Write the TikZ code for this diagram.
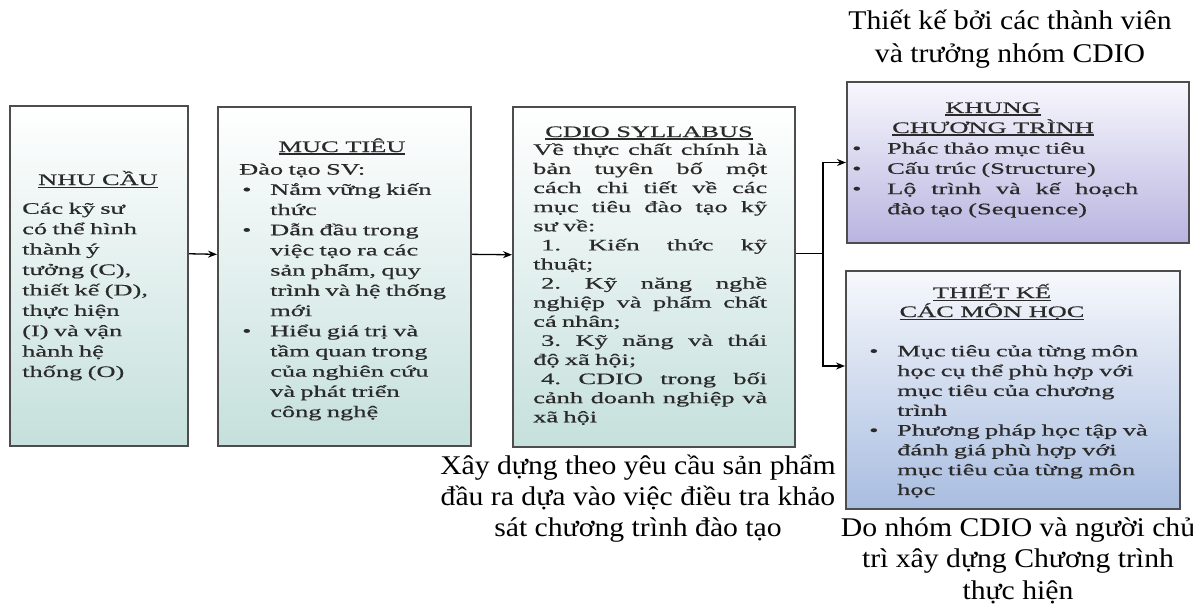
\documentclass[tikz,border=0pt]{standalone}
\usepackage{fontspec}
\setmainfont{Liberation Serif}
\newfontfamily\boxfont[FakeStretch=1.65,FakeBold=0.5]{Liberation Serif}
\newfontfamily\labfont[FakeStretch=1.1]{Liberation Serif}
\usetikzlibrary{arrows.meta,calc}
\definecolor{bordergray}{HTML}{4D4D4D}
\definecolor{tealbot}{HTML}{C5E0DC}
\definecolor{lavbot}{HTML}{B8B4E0}
\definecolor{lavtop}{HTML}{F8F7FD}
\definecolor{bluebot}{HTML}{A9BDE0}
\definecolor{bluetop}{HTML}{F6F8FC}
\definecolor{txtc}{HTML}{2A2A2A}
\newcommand{\ulx}[1]{\setbox0\hbox{#1}\rlap{\rule[-2.6pt]{\wd0}{1.1pt}}\box0}
\newcommand{\jl}[2]{\makebox[#1][s]{\spaceskip=.3333em plus 1fil\relax\xspaceskip=\spaceskip #2}}
\tikzset{
  boxbase/.style={draw=bordergray, line width=2pt, anchor=north west, inner sep=0pt},
  boxA/.style={boxbase, top color=white, bottom color=tealbot},
  boxB/.style={boxbase, top color=lavtop, bottom color=lavbot},
  boxC/.style={boxbase, top color=bluetop, bottom color=bluebot},
  ttl/.style={font={\boxfont\fontsize{16}{20}\selectfont}, text=txtc, anchor=base, inner sep=0pt},
  btxt/.style={text=txtc, anchor=north west, inner sep=0pt, align=left},
  lab/.style={align=center, anchor=north, inner sep=0pt, text=black},
  arr/.style={-{Stealth[length=9pt,width=7pt]}, line width=1.3pt, black},
  ln/.style={line width=1.3pt, black}
}
\begin{document}
\begin{tikzpicture}[x=1pt,y=-1pt]
\useasboundingbox (0,0) rectangle (1193,607);
% boxes
\node[boxA, minimum width=178, minimum height=340] (b1) at (9,105) {};
\node[boxA, minimum width=253, minimum height=339] (b2) at (217,106) {};
\node[boxA, minimum width=282, minimum height=340] (b3) at (512,106) {};
\node[boxB, minimum width=342, minimum height=161] (b4) at (846,81) {};
\node[boxC, minimum width=334, minimum height=238] (b5) at (845,270) {};
% box 1
\node[ttl] (t1) at (98,185) {\ulx{NHU CẦU}};
\node[btxt, font={\boxfont\fontsize{16}{20.4}\selectfont}, text width=165] (x1) at (22,199.3) {\strut Các kỹ sư\\có thể hình\\thành ý\\tưởng (C),\\thiết kế (D),\\thực hiện\\(I) và vận\\hành hệ\\thống (O)};
% box 2
\node[ttl] (t2) at (342,152) {\ulx{MỤC TIÊU}};
\node[btxt, font={\boxfont\fontsize{16}{20.2}\selectfont}, text width=228] (x2) at (239,160.3) {\strut Đào tạo SV:\\
\hspace*{3pt}\makebox[28pt][l]{•}Nắm vững kiến\\
\hspace*{31pt}thức\\
\hspace*{3pt}\makebox[28pt][l]{•}Dẫn đầu trong\\
\hspace*{31pt}việc tạo ra các\\
\hspace*{31pt}sản phẩm, quy\\
\hspace*{31pt}trình và hệ thống\\
\hspace*{31pt}mới\\
\hspace*{3pt}\makebox[28pt][l]{•}Hiểu giá trị và\\
\hspace*{31pt}tầm quan trong\\
\hspace*{31pt}của nghiên cứu\\
\hspace*{31pt}và phát triển\\
\hspace*{31pt}công nghệ};
% box 3
\node[ttl] (t3) at (649,137) {\ulx{CDIO SYLLABUS}};
\node[btxt, font={\boxfont\fontsize{16}{19.1}\selectfont}, text width=236] (x3) at (533,141.3) {\strut\jl{234pt}{Về thực chất chính là}\\
\jl{234pt}{bản tuyên bố một}\\
\jl{234pt}{cách chi tiết về các}\\
\jl{234pt}{mục tiêu đào tạo kỹ}\\
sư về:\\
\jl{234pt}{\hspace*{8pt}1. Kiến thức kỹ}\\
thuật;\\
\jl{234pt}{\hspace*{8pt}2. Kỹ năng nghề}\\
\jl{234pt}{nghiệp và phẩm chất}\\
cá nhân;\\
\jl{234pt}{\hspace*{8pt}3. Kỹ năng và thái}\\
độ xã hội;\\
\jl{234pt}{\hspace*{8pt}4. CDIO trong bối}\\
\jl{234pt}{cảnh doanh nghiệp và}\\
xã hội};
% box 4
\node[ttl] (t4a) at (993,113) {\ulx{KHUNG}};
\node[ttl] (t4b) at (993,133) {\ulx{CHƯƠNG TRÌNH}};
\node[btxt, font={\boxfont\fontsize{16}{20.2}\selectfont}, text width=290] (x4) at (852,139.3) {\strut\makebox[35pt][l]{•}Phác thảo mục tiêu\\
\makebox[35pt][l]{•}Cấu trúc (Structure)\\
\makebox[35pt][l]{•}\jl{251pt}{Lộ trình và kế hoạch}\\
\hspace*{35pt}đào tạo (Sequence)};
% box 5
\node[ttl] (t5a) at (992,298) {\ulx{THIẾT KẾ}};
\node[ttl] (t5b) at (992,317) {\ulx{CÁC MÔN HỌC}};
\node[btxt, font={\boxfont\fontsize{16}{19.8}\selectfont}, text width=300] (x5) at (869,342.3) {\strut\makebox[28pt][l]{•}Mục tiêu của từng môn\\
\hspace*{28pt}học cụ thể phù hợp với\\
\hspace*{28pt}mục tiêu của chương\\
\hspace*{28pt}trình\\
\makebox[28pt][l]{•}Phương pháp học tập và\\
\hspace*{28pt}đánh giá phù hợp với\\
\hspace*{28pt}mục tiêu của từng môn\\
\hspace*{28pt}học};
% labels
\node[lab, font={\labfont\fontsize{27}{33}\selectfont}] (L1) at (1010,5.9) {\strut Thiết kế bởi các thành viên\\và trưởng nhóm CDIO};
\node[lab, font={\labfont\fontsize{27}{31}\selectfont}] (L2) at (638,452.3) {\strut Xây dựng theo yêu cầu sản phẩm\\đầu ra dựa vào việc điều tra khảo\\sát chương trình đào tạo};
\node[lab, font={\labfont\fontsize{27}{31.5}\selectfont}] (L3) at (1018,514) {\strut Do nhóm CDIO và người chủ\\trì xây dựng Chương trình\\thực hiện};
% connectors
\draw[arr] ($(b1.north east)!0.435!(b1.south east)$) -- ($(b2.north west)!0.435!(b2.south west)$);
\draw[arr] ($(b2.north east)!0.435!(b2.south east)$) -- ($(b3.north west)!0.435!(b3.south west)$);
\coordinate (j) at ($(b3.north east)!0.432!(b3.south east)+(27,0)$);
\draw[ln] ($(b3.north east)!0.432!(b3.south east)$) -- (j);
\draw[arr] (j) |- (b4.west);
\draw[arr] (j) |- ($(b5.north west)!0.4!(b5.south west)$);
\end{tikzpicture}
\end{document}
